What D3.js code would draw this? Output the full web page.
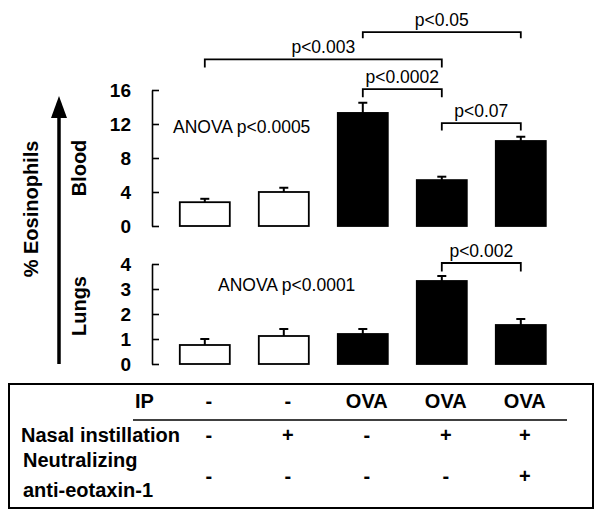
<!DOCTYPE html>
<html>
<head>
<meta charset="utf-8">
<script src="https://cdn.jsdelivr.net/npm/d3@7"></script>
<style>
  html, body { margin: 0; padding: 0; background: #fff; }
  svg { display: block; font-family: "Liberation Sans", Arial, sans-serif; }
</style>
</head>
<body>
<svg id="chart" width="601" height="519"></svg>
<script>
// ---- data ----
const groups = ["G1", "G2", "G3", "G4", "G5"];
const ipRow = ["-", "-", "OVA", "OVA", "OVA"];
const nasalRow = ["-", "+", "-", "+", "+"];
const neutralRow = ["-", "-", "-", "-", "+"];
const filled = [false, false, true, true, true];

const bloodMean = [2.8, 4.0, 13.3, 5.4, 10.0];
const bloodErr = [0.4, 0.5, 1.2, 0.4, 0.5];
const lungMean = [0.76, 1.12, 1.2, 3.32, 1.56];
const lungErr = [0.24, 0.28, 0.2, 0.2, 0.24];

const bloodTicks = [0, 4, 8, 12, 16];
const lungTicks = [0, 1, 2, 3, 4];

// brackets: from group index, to group index, level (axis units), label
const bloodBrackets = [
  { from: 0, to: 3, level: 19.6, drop: 0.95, label: "p<0.003" },
  { from: 2, to: 4, level: 22.8, drop: 0.7, label: "p<0.05" },
  { from: 2, to: 3, level: 16.1, drop: 0.95, label: "p<0.0002" },
  { from: 3, to: 4, level: 12.1, drop: 0.85, label: "p<0.07" }
];
const lungBrackets = [
  { from: 3, to: 4, level: 4.04, drop: 0.34, label: "p<0.002" }
];
const bloodAnova = "ANOVA p<0.0005";
const lungAnova = "ANOVA p<0.0001";

// ---- drawing ----
const svg = d3.select("#chart");

const x = d3.scaleBand().domain(groups).range([165.3, 560.3])
  .paddingInner(0.367).paddingOuter(0.1835);
const cx = i => x(groups[i]) + x.bandwidth() / 2;

const yBlood = d3.scaleLinear().domain([0, 16]).range([226, 90]);
const yLung = d3.scaleLinear().domain([0, 4]).range([364, 264]);

function panel(y, ticks, means, errs, brackets, anova, anovaX, anovaVal) {
  const g = svg.append("g");
  // axis
  const ax = g.append("g").attr("transform", "translate(152,0)")
    .call(d3.axisLeft(y).tickValues(ticks).tickFormat(d3.format("d"))
      .tickSizeInner(-7).tickSizeOuter(0).tickPadding(21));
  ax.select(".domain").attr("stroke", "#000").attr("stroke-width", 1.6);
  ax.selectAll(".tick line").attr("stroke", "#000").attr("stroke-width", 1.6);
  ax.selectAll(".tick text").attr("font-size", 19).attr("font-weight", "bold")
    .attr("font-family", "'Liberation Sans', Arial, sans-serif").attr("fill", "#000");

  // bars
  g.selectAll("rect.bar").data(means).join("rect")
    .attr("class", "bar")
    .attr("x", (d, i) => x(groups[i]))
    .attr("width", x.bandwidth())
    .attr("y", d => y(d))
    .attr("height", d => y(0) - y(d))
    .attr("fill", (d, i) => filled[i] ? "#000" : "#fff")
    .attr("stroke", "#000").attr("stroke-width", 1.8);

  // error bars (upper only)
  const eb = g.selectAll("g.err").data(means).join("g").attr("class", "err");
  eb.append("line")
    .attr("x1", (d, i) => cx(i)).attr("x2", (d, i) => cx(i))
    .attr("y1", d => y(d)).attr("y2", (d, i) => y(d + errs[i]))
    .attr("stroke", "#000").attr("stroke-width", 2);
  eb.append("line")
    .attr("x1", (d, i) => cx(i) - 4.5).attr("x2", (d, i) => cx(i) + 4.5)
    .attr("y1", (d, i) => y(d + errs[i])).attr("y2", (d, i) => y(d + errs[i]))
    .attr("stroke", "#000").attr("stroke-width", 2);

  // brackets
  brackets.forEach(b => {
    const x1 = cx(b.from), x2 = cx(b.to);
    const yl = y(b.level), yd = y(b.level - b.drop);
    g.append("path")
      .attr("d", `M${x1},${yd}V${yl}H${x2}V${yd}`)
      .attr("fill", "none").attr("stroke", "#000").attr("stroke-width", 1.8);
    g.append("text")
      .attr("x", (x1 + x2) / 2).attr("y", yl - 6)
      .attr("text-anchor", "middle").attr("font-size", 17.5)
      .text(b.label);
  });

  g.append("text").attr("x", anovaX).attr("y", y(anovaVal))
    .attr("font-size", 17.5).text(anova);
}

panel(yBlood, bloodTicks, bloodMean, bloodErr, bloodBrackets, bloodAnova, 173, 10.9);
panel(yLung, lungTicks, lungMean, lungErr, lungBrackets, lungAnova, 218, 2.92);

// Side labels and arrow
svg.append("line").attr("x1", 59).attr("x2", 59).attr("y1", 364).attr("y2", 112)
  .attr("stroke", "#000").attr("stroke-width", 3.5);
svg.append("path").attr("d", "M59,96L67,118L51,118Z").attr("fill", "#000");

svg.append("text").attr("transform", "translate(38,209) rotate(-90)")
  .attr("text-anchor", "middle").attr("font-size", 20).attr("font-weight", "bold")
  .text("% Eosinophils");
svg.append("text").attr("transform", "translate(86,168) rotate(-90)")
  .attr("text-anchor", "middle").attr("font-size", 20).attr("font-weight", "bold")
  .text("Blood");
svg.append("text").attr("transform", "translate(86,306) rotate(-90)")
  .attr("text-anchor", "middle").attr("font-size", 20).attr("font-weight", "bold")
  .text("Lungs");

// Table
const t = svg.append("g");
t.append("rect").attr("x", 9).attr("y", 384).attr("width", 584).attr("height", 124)
  .attr("fill", "none").attr("stroke", "#000").attr("stroke-width", 2);
t.append("line").attr("x1", 133).attr("x2", 567).attr("y1", 420).attr("y2", 420)
  .attr("stroke", "#000").attr("stroke-width", 1.6);

const rowStyle = sel => sel.attr("font-size", 20).attr("font-weight", "bold");
rowStyle(t.append("text").attr("x", 135).attr("y", 408).text("IP"));
rowStyle(t.append("text").attr("x", 21).attr("y", 442).text("Nasal instillation"));
rowStyle(t.append("text").attr("x", 23).attr("y", 467).text("Neutralizing"));
rowStyle(t.append("text").attr("x", 23).attr("y", 497).text("anti-eotaxin-1"));

[[ipRow, 408], [nasalRow, 442], [neutralRow, 483]].forEach(([row, yy]) => {
  t.selectAll(null).data(row).join("text")
    .attr("x", (d, i) => cx(i) + 4)
    .attr("y", yy)
    .attr("text-anchor", "middle")
    .attr("font-size", 20).attr("font-weight", "bold")
    .text(d => d);
});
</script>
</body>
</html>
